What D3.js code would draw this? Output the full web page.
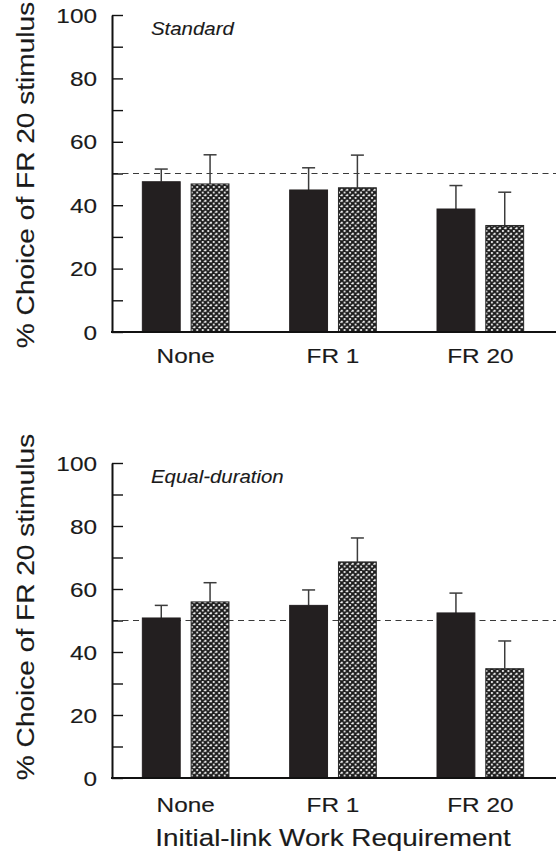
<!DOCTYPE html>
<html>
<head>
<meta charset="utf-8">
<script src="https://cdn.jsdelivr.net/npm/d3@7"></script>
<style>
  html, body { margin: 0; padding: 0; background: #fff; }
  svg { display: block; }
</style>
</head>
<body>
<svg id="chart" width="560" height="853"></svg>
<script>
// ---- data ----
const categories = ["None", "FR 1", "FR 20"];
const seriesNames = ["Solid", "Hatched"];
const yTicks = [0, 20, 40, 60, 80, 100];
const yMinorTicks = [10, 30, 50, 70, 90];
const referenceLevel = 50;

const standardSolid = [47.4, 44.8, 38.8];
const standardSolidErr = [4.0, 7.0, 7.4];
const standardHatched = [46.7, 45.5, 33.6];
const standardHatchedErr = [9.2, 10.3, 10.5];

const equalSolid = [50.8, 54.8, 52.4];
const equalSolidErr = [4.0, 4.9, 6.3];
const equalHatched = [55.9, 68.6, 34.7];
const equalHatchedErr = [6.1, 7.6, 8.8];

const panelTitles = ["Standard", "Equal-duration"];
const yAxisTitle = "% Choice of FR 20 stimulus";
const xAxisTitle = "Initial-link Work Requirement";

// ---- setup ----
const svg = d3.select("#chart");
const FONT = "'Liberation Sans', Arial, Helvetica, sans-serif";
const SX = 1.16; // horizontal glyph stretch seen in the reference

const defs = svg.append("defs");
const pat = defs.append("pattern")
  .attr("id", "xhatch")
  .attr("patternUnits", "userSpaceOnUse")
  .attr("width", 5.5).attr("height", 5.5);
pat.append("rect").attr("width", 5.5).attr("height", 5.5).attr("fill", "#fff");
pat.append("path")
  .attr("d", "M-1,-1 L6.5,6.5 M-1,6.5 L6.5,-1 M-3.75,1.75 L1.75,-3.75 M3.75,9.25 L9.25,3.75 M-3.75,3.75 L1.75,9.25 M3.75,-3.75 L9.25,1.75")
  .attr("stroke", "#1a1a1a").attr("stroke-width", 2.0).attr("fill", "none");

function label(g, x, y, txt, size, anchor, opts = {}) {
  const rot = opts.rotate ? ` rotate(${opts.rotate})` : "";
  return g.append("text")
    .attr("transform", `translate(${x},${y})${rot} scale(${opts.sx || SX},1)`)
    .attr("text-anchor", anchor)
    .attr("font-family", FONT)
    .attr("font-size", size)
    .attr("font-style", opts.italic ? "italic" : "normal")
    .attr("fill", "#1a1a1a")
    .attr("stroke", "#1a1a1a")
    .attr("stroke-width", opts.sw == null ? 0.15 : opts.sw)
    .attr("dy", opts.dy || 0)
    .text(txt);
}

const xLeft = 112, xRight = 554, xAxisEnd = 556;

const x0 = d3.scaleBand().domain(categories).range([xLeft, xRight]).paddingInner(0).paddingOuter(0);
const x1 = d3.scaleBand().domain(seriesNames).range([0, x0.bandwidth()]).paddingInner(0.224).paddingOuter(0.622);

const panels = [
  { title: panelTitles[0], yBottom: 332, yTop: 15, solid: standardSolid, solidErr: standardSolidErr,
    hatched: standardHatched, hatchedErr: standardHatchedErr, catBaseline: 363, yTitleCenter: 175 },
  { title: panelTitles[1], yBottom: 778, yTop: 463, solid: equalSolid, solidErr: equalSolidErr,
    hatched: equalHatched, hatchedErr: equalHatchedErr, catBaseline: 812, yTitleCenter: 607 }
];

panels.forEach((p, pi) => {
  const y = d3.scaleLinear().domain([0, 100]).range([p.yBottom, p.yTop]);
  const g = svg.append("g");

  const rows = categories.map((c, i) => ({
    cat: c,
    vals: [
      { s: seriesNames[0], v: p.solid[i], e: p.solidErr[i] },
      { s: seriesNames[1], v: p.hatched[i], e: p.hatchedErr[i] }
    ]
  }));

  // reference dashed line
  g.append("line")
    .attr("x1", xLeft).attr("x2", xAxisEnd)
    .attr("y1", y(referenceLevel)).attr("y2", y(referenceLevel))
    .attr("stroke", "#3a3a3a").attr("stroke-width", 1.2)
    .attr("stroke-dasharray", "6,4.5");

  const grp = g.selectAll("g.cat").data(rows).join("g")
    .attr("class", "cat")
    .attr("transform", d => `translate(${x0(d.cat)},0)`);

  // error bars
  grp.selectAll("g.err").data(d => d.vals).join("g").attr("class", "err")
    .each(function(d) {
      const cx = x1(d.s) + x1.bandwidth() / 2;
      const e = d3.select(this);
      e.append("line").attr("x1", cx).attr("x2", cx)
        .attr("y1", y(d.v)).attr("y2", y(d.v + d.e))
        .attr("stroke", "#3c3c3c").attr("stroke-width", 1.5);
      e.append("line").attr("x1", cx - 6.5).attr("x2", cx + 6.5)
        .attr("y1", y(d.v + d.e)).attr("y2", y(d.v + d.e))
        .attr("stroke", "#3c3c3c").attr("stroke-width", 1.5);
    });

  grp.selectAll("rect").data(d => d.vals).join("rect")
    .attr("x", d => x1(d.s))
    .attr("width", x1.bandwidth())
    .attr("y", d => y(d.v))
    .attr("height", d => y(0) - y(d.v))
    .attr("fill", d => d.s === seriesNames[0] ? "#231f20" : "url(#xhatch)")
    .attr("stroke", d => d.s === seriesNames[0] ? "#231f20" : "#2a2a2a")
    .attr("stroke-width", 1);

  // y axis with inward ticks
  const axisG = g.append("g").attr("transform", `translate(${xLeft},0)`);
  axisG.call(d3.axisLeft(y).tickValues(yTicks.concat(yMinorTicks)).tickSize(-11).tickSizeOuter(0).tickFormat(""));
  axisG.select(".domain").attr("stroke", "#111").attr("stroke-width", 2);
  axisG.selectAll(".tick line").attr("stroke", "#111").attr("stroke-width", 1.4);
  axisG.selectAll(".tick text").remove();

  yTicks.forEach(t => {
    label(g, 97, y(t), String(t), 21, "end", { dy: "0.36em" });
  });

  // x axis line
  g.append("line").attr("x1", xLeft - 1).attr("x2", xAxisEnd)
    .attr("y1", y(0)).attr("y2", y(0))
    .attr("stroke", "#111").attr("stroke-width", 2);

  // category labels
  categories.forEach(c => {
    label(g, x0(c) + x0.bandwidth() / 2, p.catBaseline, c, 21, "middle");
  });

  // panel title
  label(g, 151, y(100) + 20, p.title, 17.6, "start", { italic: true, sw: 0.1 });

  // y axis title
  label(g, 34, p.yTitleCenter, yAxisTitle, 24, "middle", { rotate: -90, sx: 1.17 });
});

// x axis title
label(svg, 333, 846, xAxisTitle, 24, "middle");
</script>
</body>
</html>
